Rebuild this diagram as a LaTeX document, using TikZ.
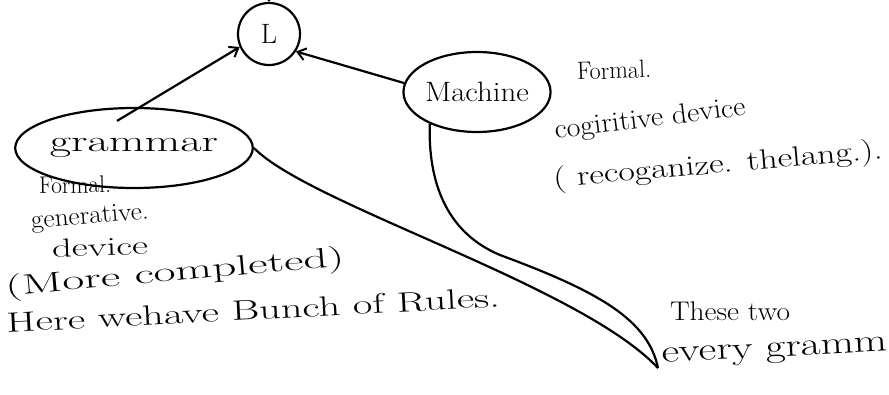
\documentclass[tikz,border=0pt]{standalone}
\usetikzlibrary{shapes.geometric,arrows.meta,calc}
\newcommand\hw[3]{{\fontsize{#2}{#2}\selectfont\resizebox{#1}{\height}{#3}}}
\begin{document}
\begin{tikzpicture}[x=1pt,y=-1pt,
  ink/.style={line width=2.2pt, draw=black},
  txt/.style={inner sep=0pt, anchor=center},
  tip/.style={-{Straight Barb[length=8pt,width=12pt,line width=2pt]}}
]
\useasboundingbox (0,0) rectangle (889,394);
% main nodes
\node[ink, circle, minimum size=62pt, inner sep=0pt, font=\fontsize{28}{30}\selectfont] (L) at (269,34) {L};
\node[ink, ellipse, minimum width=194pt, minimum height=80pt, inner sep=0pt, txt] (grammar) at (134,148) {\hw{168pt}{30}{grammar}};
\node[ink, ellipse, minimum width=120pt, minimum height=80pt, inner sep=0pt, txt] (machine) at (477,92) {\hw{104pt}{28}{Machine}};
% texts
\node[txt, rotate=2] (fr) at (614,70) {\hw{74pt}{25}{Formal.}};
\node[txt, rotate=7] (cog) at (650,120) {\hw{192pt}{28}{cogiritive device}};
\node[txt, rotate=5] (rec) at (718,166) {\hw{330pt}{28}{( recoganize. thelang.).}};
\node[txt, rotate=1] (fl) at (75,185) {\hw{72pt}{24}{Formal.}};
\node[txt, rotate=5] (gen) at (90,218) {\hw{118pt}{26}{generative.}};
\node[txt, rotate=2] (dev) at (100,247) {\hw{96pt}{26}{device}};
\node[txt, rotate=5] (more) at (175,274) {\hw{340pt}{28}{(More completed)}};
\node[txt, rotate=3] (here) at (253,310) {\hw{494pt}{28}{Here wehave Bunch of Rules.}};
\node[txt] (two) at (730,311) {\hw{120pt}{27}{These two}};
\node[txt, rotate=3] (every) at (775,353) {\hw{226pt}{32}{every gramm}};
% connectors
\coordinate (top) at (269,0);
\coordinate (meet) at (658,368);
\draw[ink, tip] (top) -- (L.north);
\draw[ink, tip] ($(grammar.north)+(-17,14)$) -- (L.204);
\draw[ink, tip] (machine.173) -- (L.327);
\draw[ink] (grammar.east) .. controls (310,205) and (580,285) .. (meet);
\draw[ink] (machine.214) .. controls (428,180) and (445,232) .. (500,255) .. controls (600,292) and (648,320) .. (meet);
\end{tikzpicture}
\end{document}
